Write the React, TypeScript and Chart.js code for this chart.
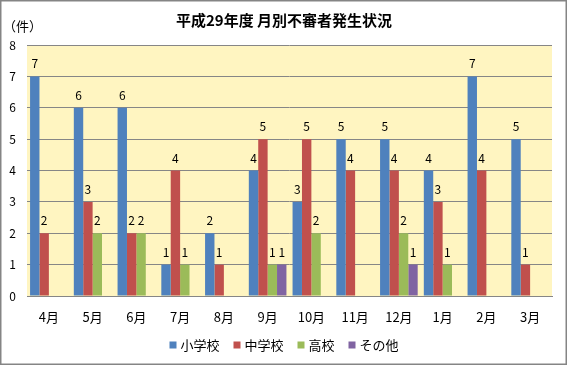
import React, { useEffect, useRef } from "react";
import { Chart, registerables } from "chart.js";

Chart.register(...registerables);

const TITLE = "平成29年度 月別不審者発生状況";
const UNIT_LABEL = "（件）";
const months = ["4月", "5月", "6月", "7月", "8月", "9月", "10月", "11月", "12月", "1月", "2月", "3月"];
const elementary = [7, 6, 6, 1, 2, 4, 3, 5, 5, 4, 7, 5];
const juniorHigh = [2, 3, 2, 4, 1, 5, 5, 4, 4, 3, 4, 1];
const highSchool = [0, 2, 2, 1, 0, 1, 2, 0, 2, 1, 0, 0];
const others = [0, 0, 0, 0, 0, 1, 0, 0, 1, 0, 0, 0];
const seriesNames = ["小学校", "中学校", "高校", "その他"];
const seriesColors = ["#4F81BD", "#C0504D", "#9BBB59", "#8064A2"];
const yTicks = [0, 1, 2, 3, 4, 5, 6, 7, 8];

const FONT = "'Noto Sans CJK JP', 'Noto Sans', sans-serif";

const decorPlugin = {
  id: "decor",
  beforeDraw(chart: any) {
    const { ctx, chartArea } = chart;
    ctx.save();
    ctx.fillStyle = "#FFFFFF";
    ctx.fillRect(0, 0, chart.width, chart.height);
    ctx.fillStyle = "#FFF5C1";
    ctx.fillRect(chartArea.left, chartArea.top, chartArea.right - chartArea.left, chartArea.bottom - chartArea.top);
    ctx.restore();
  },
  afterDraw(chart: any) {
    const { ctx } = chart;
    ctx.save();
    ctx.strokeStyle = "#858585";
    ctx.lineWidth = 1.5;
    ctx.strokeRect(0.75, 0.75, 565.5, 363.5);

    // title
    ctx.fillStyle = "#000000";
    ctx.font = `bold 15px ${FONT}`;
    ctx.textAlign = "center";
    ctx.textBaseline = "middle";
    ctx.fillText(TITLE, 284, 20);

    ctx.font = `13px ${FONT}`;
    ctx.textAlign = "left";
    ctx.fillText(UNIT_LABEL, 3, 26);

    // legend
    ctx.font = `13px ${FONT}`;
    const box = 7;
    const gapBoxText = 4;
    const gapItems = 14;
    const widths = seriesNames.map((n) => box + gapBoxText + ctx.measureText(n).width);
    const total = widths.reduce((a, b) => a + b, 0) + gapItems * (widths.length - 1);
    let x = 284 - total / 2;
    const ly = 345;
    seriesNames.forEach((n, i) => {
      ctx.fillStyle = seriesColors[i];
      ctx.fillRect(x, ly - box / 2, box, box);
      ctx.fillStyle = "#000000";
      ctx.fillText(n, x + box + gapBoxText, ly);
      x += widths[i] + gapItems;
    });

    // data labels
    ctx.font = `12px ${FONT}`;
    ctx.textAlign = "center";
    ctx.textBaseline = "alphabetic";
    chart.data.datasets.forEach((ds: any, i: number) => {
      const meta = chart.getDatasetMeta(i);
      meta.data.forEach((bar: any, j: number) => {
        const v = ds.data[j];
        if (!v) return;
        ctx.fillText(String(v), bar.x, bar.y - 8);
      });
    });
    ctx.restore();
  },
};

export default function App() {
  const ref = useRef<HTMLCanvasElement | null>(null);
  useEffect(() => {
    document.body.style.margin = "0";
    const data = [elementary, juniorHigh, highSchool, others];
    const chart = new Chart(ref.current as HTMLCanvasElement, {
      type: "bar",
      data: {
        labels: months,
        datasets: data.map((d, i) => ({
          label: seriesNames[i],
          data: d,
          backgroundColor: seriesColors[i],
          borderWidth: 0,
          barPercentage: 1,
          categoryPercentage: 0.86,
        })),
      },
      options: {
        responsive: false,
        animation: false,
        events: [],
        layout: { padding: { left: 0, right: 16, top: 45, bottom: 0 } },
        plugins: {
          title: { display: false },
          legend: { display: false },
          tooltip: { enabled: false },
        },
        scales: {
          x: {
            afterFit: (scale: any) => {
              scale.height = 70;
            },
            grid: { display: false, drawTicks: false },
            border: { display: true, color: "#868686", width: 1 },
            ticks: { color: "#000000", font: { family: FONT, size: 13 }, padding: 13 },
          },
          y: {
            min: 0,
            max: 8,
            afterFit: (scale: any) => {
              scale.width = 27;
            },
            afterBuildTicks: (scale: any) => {
              scale.ticks = yTicks.map((v) => ({ value: v }));
            },
            grid: { color: "#868686", drawTicks: false },
            border: { display: false },
            ticks: { color: "#000000", font: { family: FONT, size: 12 }, padding: 11 },
          },
        },
      },
      plugins: [decorPlugin],
    });
    return () => chart.destroy();
  }, []);
  return (
    <div style={{ width: 568, height: 366 }}>
      <canvas ref={ref} width={568} height={366} style={{ display: "block" }} />
    </div>
  );
}
